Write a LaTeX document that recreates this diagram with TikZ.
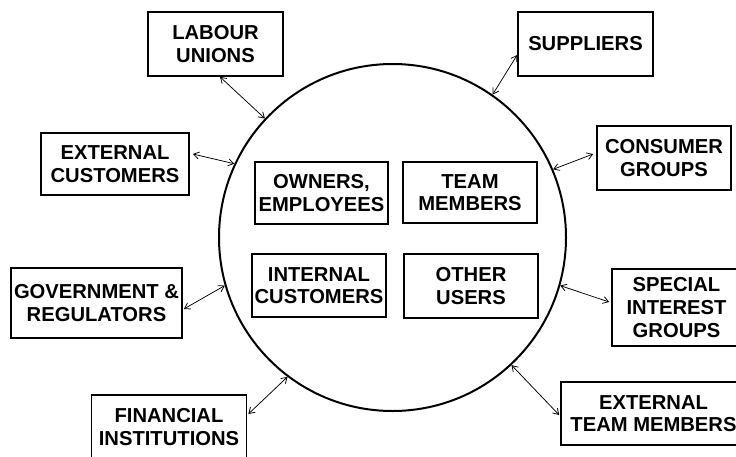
\documentclass[tikz,border=0pt]{standalone}
\usepackage{fontspec}
\setmainfont{Liberation Sans}
\usetikzlibrary{arrows.meta}
\begin{document}
\begin{tikzpicture}[x=1pt,y=-1pt,
  box/.style={draw, line width=1.7pt, inner sep=0pt, align=center,
    font=\fontsize{20.2}{22.7}\selectfont\bfseries},
  conn/.style={line width=0.75pt, {Straight Barb[length=5.5pt,width=7pt]}-{Straight Barb[length=5.5pt,width=7pt]}},
  ring/.style={circle, draw, line width=2pt, inner sep=0pt, minimum size=347pt}]
\useasboundingbox (0,0) rectangle (736,456);
\clip (0,0) rectangle (736,456);
\fill[white] (0,0) rectangle (736,456);
\node[ring] (c) at (392.5,237.5) {};
\node[box, minimum width=135pt, minimum height=64pt] (lab) at (215.5,44) {LABOUR\\UNIONS};
\node[box, minimum width=148pt, minimum height=62pt] (ext) at (115,164) {EXTERNAL\\CUSTOMERS};
\node[box, minimum width=133pt, minimum height=62pt] (own) at (321.5,193) {OWNERS,\\EMPLOYEES};
\node[box, minimum width=134pt, minimum height=61pt] (team) at (470,192.5) {TEAM\\MEMBERS};
\node[box, minimum width=135pt, minimum height=64pt] (sup) at (585.5,44) {SUPPLIERS};
\node[box, minimum width=134pt, minimum height=64pt] (con) at (664,158) {CONSUMER\\GROUPS};
\node[box, minimum width=134pt, minimum height=63pt] (int) at (319,285.5) {INTERNAL\\CUSTOMERS};
\node[box, minimum width=134pt, minimum height=64pt] (oth) at (471,286) {OTHER\\USERS};
\node[box, minimum width=171pt, minimum height=70pt] (gov) at (96.5,303) {GOVERNMENT \&\\REGULATORS};
\node[box, minimum width=155pt, minimum height=64pt] (fin) at (169,427) {FINANCIAL\\INSTITUTIONS};
\node[box, minimum width=129pt, minimum height=77pt] (spe) at (676.5,307.5) {SPECIAL\\INTEREST\\GROUPS};
\node[box, minimum width=185pt, minimum height=63pt] (xtm) at (653.5,413.5) {EXTERNAL\\TEAM MEMBERS};
\draw[conn] ([xshift=4.5pt]lab.south) -- (c.137.6);
\draw[conn] ([xshift=3pt,yshift=10pt]ext.east) -- (c.155.5);
\draw[conn] ([yshift=-11pt]sup.west) -- (c.55.5);
\draw[conn] ([xshift=-3pt,yshift=4pt]con.west) -- (c.23.2);
\draw[conn] ([xshift=1pt,yshift=-6pt]gov.east) -- (c.196.6);
\draw[conn] ([xshift=1pt,yshift=13pt]fin.east) -- (c.233);
\draw[conn] ([xshift=-2pt,yshift=5.5pt]spe.west) -- (c.-16.6);
\draw[conn] ([xshift=-1pt,yshift=-1.5pt]xtm.west) -- (c.-47.5);
\end{tikzpicture}
\end{document}
